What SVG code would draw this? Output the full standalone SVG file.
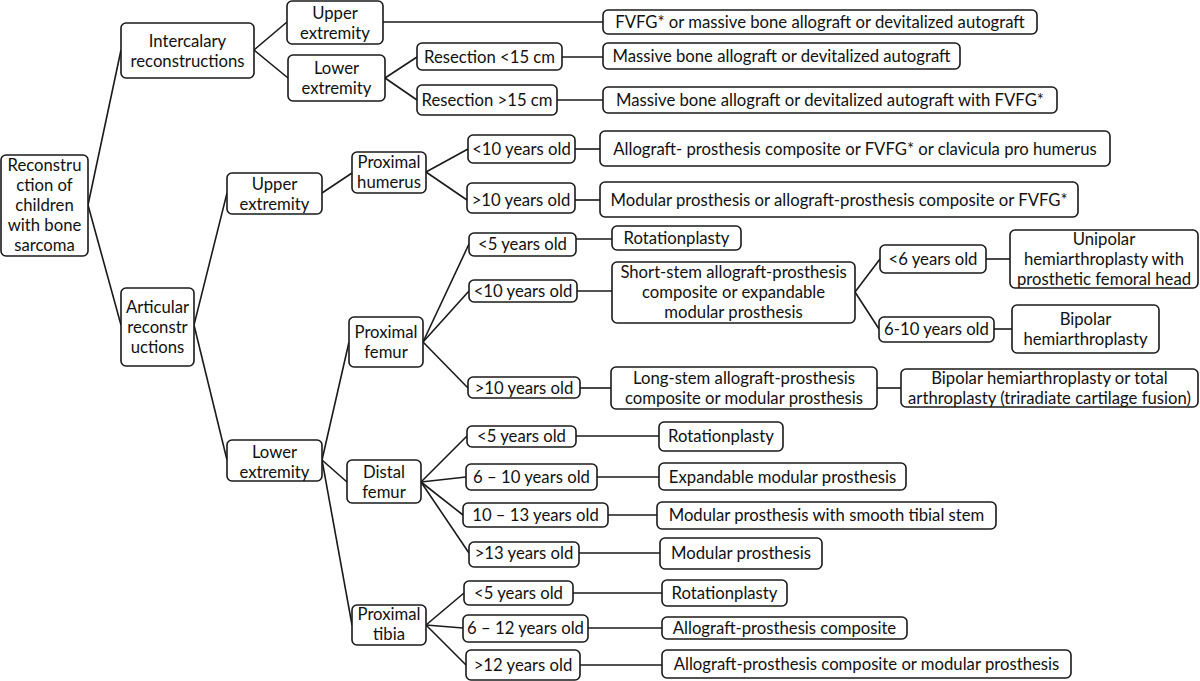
<svg xmlns="http://www.w3.org/2000/svg" width="1200" height="681" viewBox="0 0 1200 681">
<style>
rect{fill:#fff;stroke:#1a1a1a;stroke-width:1.6}
.n rect{rx:5;ry:5}
text{font-family:Lato,"Open Sans","Liberation Sans",sans-serif;font-size:16.7px;fill:#111;text-anchor:middle}
#connectors line{stroke:#1a1a1a;stroke-width:1.6}
</style>
<rect x="0" y="0" width="1200" height="681" style="fill:#fff;stroke:none"/>
<g id="connectors">
<line x1="88" y1="205" x2="121" y2="50"/>
<line x1="88" y1="205" x2="121" y2="325"/>
<line x1="254" y1="50" x2="287" y2="22"/>
<line x1="254" y1="50" x2="288" y2="78"/>
<line x1="385" y1="78" x2="417" y2="57"/>
<line x1="385" y1="78" x2="417" y2="100"/>
<line x1="383" y1="22" x2="603" y2="22"/>
<line x1="562" y1="57" x2="603" y2="57"/>
<line x1="557" y1="100" x2="603" y2="100"/>
<line x1="194" y1="325" x2="227" y2="193"/>
<line x1="194" y1="325" x2="227" y2="460"/>
<line x1="322" y1="193" x2="352" y2="173"/>
<line x1="426" y1="172" x2="468" y2="149"/>
<line x1="426" y1="172" x2="467" y2="200"/>
<line x1="575" y1="149" x2="600" y2="149"/>
<line x1="575" y1="200" x2="600" y2="200"/>
<line x1="322" y1="460" x2="349" y2="342"/>
<line x1="322" y1="460" x2="347" y2="482"/>
<line x1="322" y1="460" x2="352" y2="625"/>
<line x1="423" y1="342" x2="469" y2="244"/>
<line x1="423" y1="342" x2="469" y2="291"/>
<line x1="423" y1="342" x2="468" y2="388"/>
<line x1="576" y1="239" x2="612" y2="239"/>
<line x1="577" y1="291" x2="612" y2="291"/>
<line x1="580" y1="388" x2="611" y2="388"/>
<line x1="855" y1="292" x2="880" y2="259"/>
<line x1="855" y1="292" x2="879" y2="329"/>
<line x1="986" y1="259" x2="1010" y2="259"/>
<line x1="994" y1="329" x2="1012" y2="329"/>
<line x1="877" y1="388" x2="901" y2="388"/>
<line x1="421" y1="482" x2="467" y2="436"/>
<line x1="421" y1="482" x2="466" y2="477"/>
<line x1="421" y1="482" x2="463" y2="515"/>
<line x1="421" y1="482" x2="469" y2="553"/>
<line x1="576" y1="436" x2="659" y2="436"/>
<line x1="597" y1="477" x2="659" y2="477"/>
<line x1="608" y1="515" x2="657" y2="515"/>
<line x1="579" y1="553" x2="660" y2="553"/>
<line x1="426" y1="625" x2="464" y2="593"/>
<line x1="426" y1="625" x2="463" y2="628"/>
<line x1="426" y1="625" x2="466" y2="665"/>
<line x1="573" y1="593" x2="662" y2="593"/>
<line x1="588" y1="628" x2="662" y2="628"/>
<line x1="580" y1="665" x2="662" y2="665"/>
</g>
<g id="root" class="n"><rect x="1" y="155" width="87" height="101"/><text x="44.5" y="171">Reconstru</text><text x="44.5" y="191">ction of</text><text x="44.5" y="211">children</text><text x="44.5" y="231">with bone</text><text x="44.5" y="251">sarcoma</text></g>
<g id="intercalary" class="n"><rect x="121" y="23" width="133" height="55"/><text x="187.5" y="47">Intercalary</text><text x="187.5" y="67">reconstructions</text></g>
<g id="ie-upper" class="n"><rect x="287" y="1" width="96" height="43"/><text x="335" y="19">Upper</text><text x="335" y="39">extremity</text></g>
<g id="ie-lower" class="n"><rect x="288" y="55" width="97" height="46"/><text x="336.5" y="74">Lower</text><text x="336.5" y="94">extremity</text></g>
<g id="res-lt15" class="n"><rect x="417" y="43" width="145" height="27"/><text x="489.5" y="63">Resection &lt;15 cm</text></g>
<g id="res-gt15" class="n"><rect x="417" y="85" width="140" height="30"/><text x="487" y="106">Resection &gt;15 cm</text></g>
<g id="fvfg" class="n"><rect x="603" y="10" width="434" height="24"/><text x="820" y="28">FVFG* or massive bone allograft or devitalized autograft</text></g>
<g id="massive1" class="n"><rect x="603" y="43" width="357" height="26"/><text x="781.5" y="62">Massive bone allograft or devitalized autograft</text></g>
<g id="massive2" class="n"><rect x="603" y="87" width="454" height="26"/><text x="830" y="106">Massive bone allograft or devitalized autograft with FVFG*</text></g>
<g id="articular" class="n"><rect x="121" y="288" width="73" height="78"/><text x="157.5" y="313">Articular</text><text x="157.5" y="333">reconstr</text><text x="157.5" y="353">uctions</text></g>
<g id="ar-upper" class="n"><rect x="227" y="173" width="95" height="41"/><text x="274.5" y="190">Upper</text><text x="274.5" y="210">extremity</text></g>
<g id="prox-humerus" class="n"><rect x="352" y="152" width="74" height="41"/><text x="389" y="168">Proximal</text><text x="389" y="188">humerus</text></g>
<g id="ph-lt10" class="n"><rect x="468" y="135" width="107" height="28"/><text x="521.5" y="155">&lt;10 years old</text></g>
<g id="ph-gt10" class="n"><rect x="467" y="183" width="108" height="30"/><text x="521" y="206">&gt;10 years old</text></g>
<g id="allo1" class="n"><rect x="600" y="131" width="510" height="35"/><text x="855" y="155">Allograft- prosthesis composite or FVFG* or clavicula pro humerus</text></g>
<g id="modular1" class="n"><rect x="600" y="182" width="478" height="35"/><text x="839" y="206">Modular prosthesis or allograft-prosthesis composite or FVFG*</text></g>
<g id="ar-lower" class="n"><rect x="227" y="440" width="95" height="41"/><text x="274.5" y="458">Lower</text><text x="274.5" y="478">extremity</text></g>
<g id="prox-femur" class="n"><rect x="349" y="317" width="74" height="50"/><text x="386" y="338">Proximal</text><text x="386" y="358">femur</text></g>
<g id="pf-lt5" class="n"><rect x="469" y="233" width="107" height="23"/><text x="522.5" y="250">&lt;5 years old</text></g>
<g id="rot1" class="n"><rect x="612" y="226" width="129" height="24"/><text x="676.5" y="244">Rotationplasty</text></g>
<g id="pf-lt10" class="n"><rect x="469" y="280" width="108" height="22"/><text x="523" y="297">&lt;10 years old</text></g>
<g id="shortstem" class="n"><rect x="612" y="262" width="243" height="61"/><text x="733.5" y="278">Short-stem allograft-prosthesis</text><text x="733.5" y="298">composite or expandable</text><text x="733.5" y="318">modular prosthesis</text></g>
<g id="lt6" class="n"><rect x="880" y="245" width="106" height="28"/><text x="933" y="265">&lt;6 years old</text></g>
<g id="y6-10" class="n"><rect x="879" y="317" width="115" height="25"/><text x="936.5" y="335">6-10 years old</text></g>
<g id="unipolar" class="n"><rect x="1010" y="230" width="188" height="58"/><text x="1104" y="245">Unipolar</text><text x="1104" y="265">hemiarthroplasty with</text><text x="1104" y="285">prosthetic femoral head</text></g>
<g id="bipolar" class="n"><rect x="1012" y="305" width="147" height="48"/><text x="1085.5" y="325">Bipolar</text><text x="1085.5" y="345">hemiarthroplasty</text></g>
<g id="pf-gt10" class="n"><rect x="468" y="377" width="112" height="21"/><text x="524" y="394">&gt;10 years old</text></g>
<g id="longstem" class="n"><rect x="611" y="367" width="266" height="42"/><text x="744" y="384">Long-stem allograft-prosthesis</text><text x="744" y="404">composite or modular prosthesis</text></g>
<g id="bipolar-total" class="n"><rect x="901" y="369" width="297" height="38"/><text x="1049.5" y="384">Bipolar hemiarthroplasty or total</text><text x="1049.5" y="404">arthroplasty (triradiate cartilage fusion)</text></g>
<g id="distal-femur" class="n"><rect x="347" y="460" width="74" height="43"/><text x="384" y="478">Distal</text><text x="384" y="498">femur</text></g>
<g id="df-lt5" class="n"><rect x="467" y="426" width="109" height="21"/><text x="521.5" y="442">&lt;5 years old</text></g>
<g id="df-6-10" class="n"><rect x="466" y="464" width="131" height="26"/><text x="531.5" y="483">6 – 10 years old</text></g>
<g id="df-10-13" class="n"><rect x="463" y="503" width="145" height="24"/><text x="535.5" y="521">10 – 13 years old</text></g>
<g id="df-gt13" class="n"><rect x="469" y="542" width="110" height="25"/><text x="524" y="559">&gt;13 years old</text></g>
<g id="rot2" class="n"><rect x="659" y="422" width="124" height="29"/><text x="721" y="442">Rotationplasty</text></g>
<g id="expandable" class="n"><rect x="659" y="463" width="247" height="27"/><text x="782.5" y="483">Expandable modular prosthesis</text></g>
<g id="modsmooth" class="n"><rect x="657" y="502" width="339" height="27"/><text x="826.5" y="521">Modular prosthesis with smooth tibial stem</text></g>
<g id="modular2" class="n"><rect x="660" y="538" width="162" height="31"/><text x="741" y="559">Modular prosthesis</text></g>
<g id="prox-tibia" class="n"><rect x="352" y="605" width="74" height="40"/><text x="389" y="620">Proximal</text><text x="389" y="640">tibia</text></g>
<g id="pt-lt5" class="n"><rect x="464" y="581" width="109" height="24"/><text x="518.5" y="599">&lt;5 years old</text></g>
<g id="pt-6-12" class="n"><rect x="463" y="615" width="125" height="27"/><text x="525.5" y="634">6 – 12 years old</text></g>
<g id="pt-gt12" class="n"><rect x="466" y="650" width="114" height="30"/><text x="523" y="671">&gt;12 years old</text></g>
<g id="rot3" class="n"><rect x="662" y="580" width="125" height="26"/><text x="724.5" y="599">Rotationplasty</text></g>
<g id="allocomp" class="n"><rect x="662" y="617" width="245" height="22"/><text x="784.5" y="634">Allograft-prosthesis composite</text></g>
<g id="allomod" class="n"><rect x="662" y="650" width="409" height="28"/><text x="866.5" y="670">Allograft-prosthesis composite or modular prosthesis</text></g>
</svg>
